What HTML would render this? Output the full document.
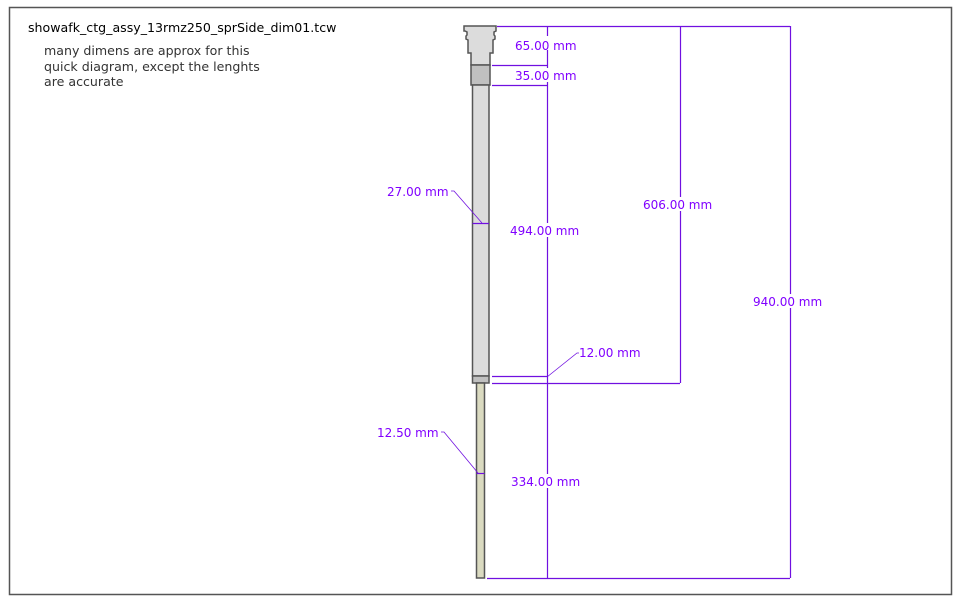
<!DOCTYPE html>
<html><head><meta charset="utf-8"><style>
html,body{margin:0;padding:0;background:#fff;}
svg{display:block;}
text{font-family:"DejaVu Sans","Liberation Sans",sans-serif;}
.d{font-size:12px;fill:#8000ff;}
</style></head><body>
<svg width="960" height="600" viewBox="0 0 960 600">
<rect x="9.5" y="7.5" width="942" height="587" fill="#fff" stroke="#555" stroke-width="1.5"/>
<text x="28" y="32" font-size="12.6" fill="#000">showafk_ctg_assy_13rmz250_sprSide_dim01.tcw</text>
<text x="44" y="55" font-size="12.6" fill="#333">many dimens are approx for this</text>
<text x="44" y="71" font-size="12.6" fill="#333">quick diagram, except the lenghts</text>
<text x="44" y="86" font-size="12.6" fill="#333">are accurate</text>

<g stroke="#555" stroke-width="1.5">
<polygon points="464,26 496,26 496,31 494,32 494,35 495,36 495,39 493,40 493,53 490,53 490,65 471,65 471,53 468,53 468,40 466,39 466,36 467,35 467,32 465,31 464,31" fill="#dcdcdc"/>
<rect x="471" y="65" width="19" height="20" fill="#c0c0c0"/>
<rect x="472.5" y="85" width="16.5" height="291" fill="#dcdcdc"/>
<rect x="472.5" y="376" width="16.5" height="7" fill="#c0c0c0"/>
<rect x="476.5" y="383" width="8" height="195" fill="#dadac0"/>
</g>

<g stroke="#7010e0" stroke-width="1.2" fill="none">
<line x1="497" y1="26.5" x2="790" y2="26.5"/>
<line x1="492" y1="65.5" x2="547" y2="65.5"/>
<line x1="492" y1="85.5" x2="547" y2="85.5"/>
<line x1="547.5" y1="26" x2="547.5" y2="578"/>
<line x1="680.5" y1="26" x2="680.5" y2="383"/>
<line x1="790.5" y1="26" x2="790.5" y2="578"/>
<line x1="492" y1="376.5" x2="547" y2="376.5"/>
<line x1="492" y1="383.5" x2="680" y2="383.5"/>
<line x1="487" y1="578.5" x2="790" y2="578.5"/>
<polyline points="547,377 577,353 579,353" stroke-width="0.8"/>
<line x1="472.5" y1="223.5" x2="489" y2="223.5"/>
<polyline points="482,223 454,191 451,191" stroke-width="0.8"/>
<line x1="476.5" y1="473.5" x2="484.5" y2="473.5"/>
<polyline points="478,473 444,432 441,432" stroke-width="0.8"/>
</g>

<g class="d">
<rect x="512" y="36" width="70" height="14" fill="#fff"/>
<text x="515" y="50" class="d">65.00 mm</text>
<rect x="512" y="68" width="70" height="14" fill="#fff"/>
<text x="515" y="80" class="d">35.00 mm</text>
<rect x="508" y="223" width="76" height="14" fill="#fff"/>
<text x="510" y="235" class="d">494.00 mm</text>
<rect x="641" y="197" width="77" height="14" fill="#fff"/>
<text x="643" y="209" class="d">606.00 mm</text>
<rect x="751" y="294" width="77" height="14" fill="#fff"/>
<text x="753" y="306" class="d">940.00 mm</text>
<rect x="509" y="474" width="76" height="14" fill="#fff"/>
<text x="511" y="486" class="d">334.00 mm</text>
<text x="579" y="357" class="d">12.00 mm</text>
<text x="387" y="196" class="d">27.00 mm</text>
<text x="377" y="437" class="d">12.50 mm</text>
</g>
</svg>
</body></html>
